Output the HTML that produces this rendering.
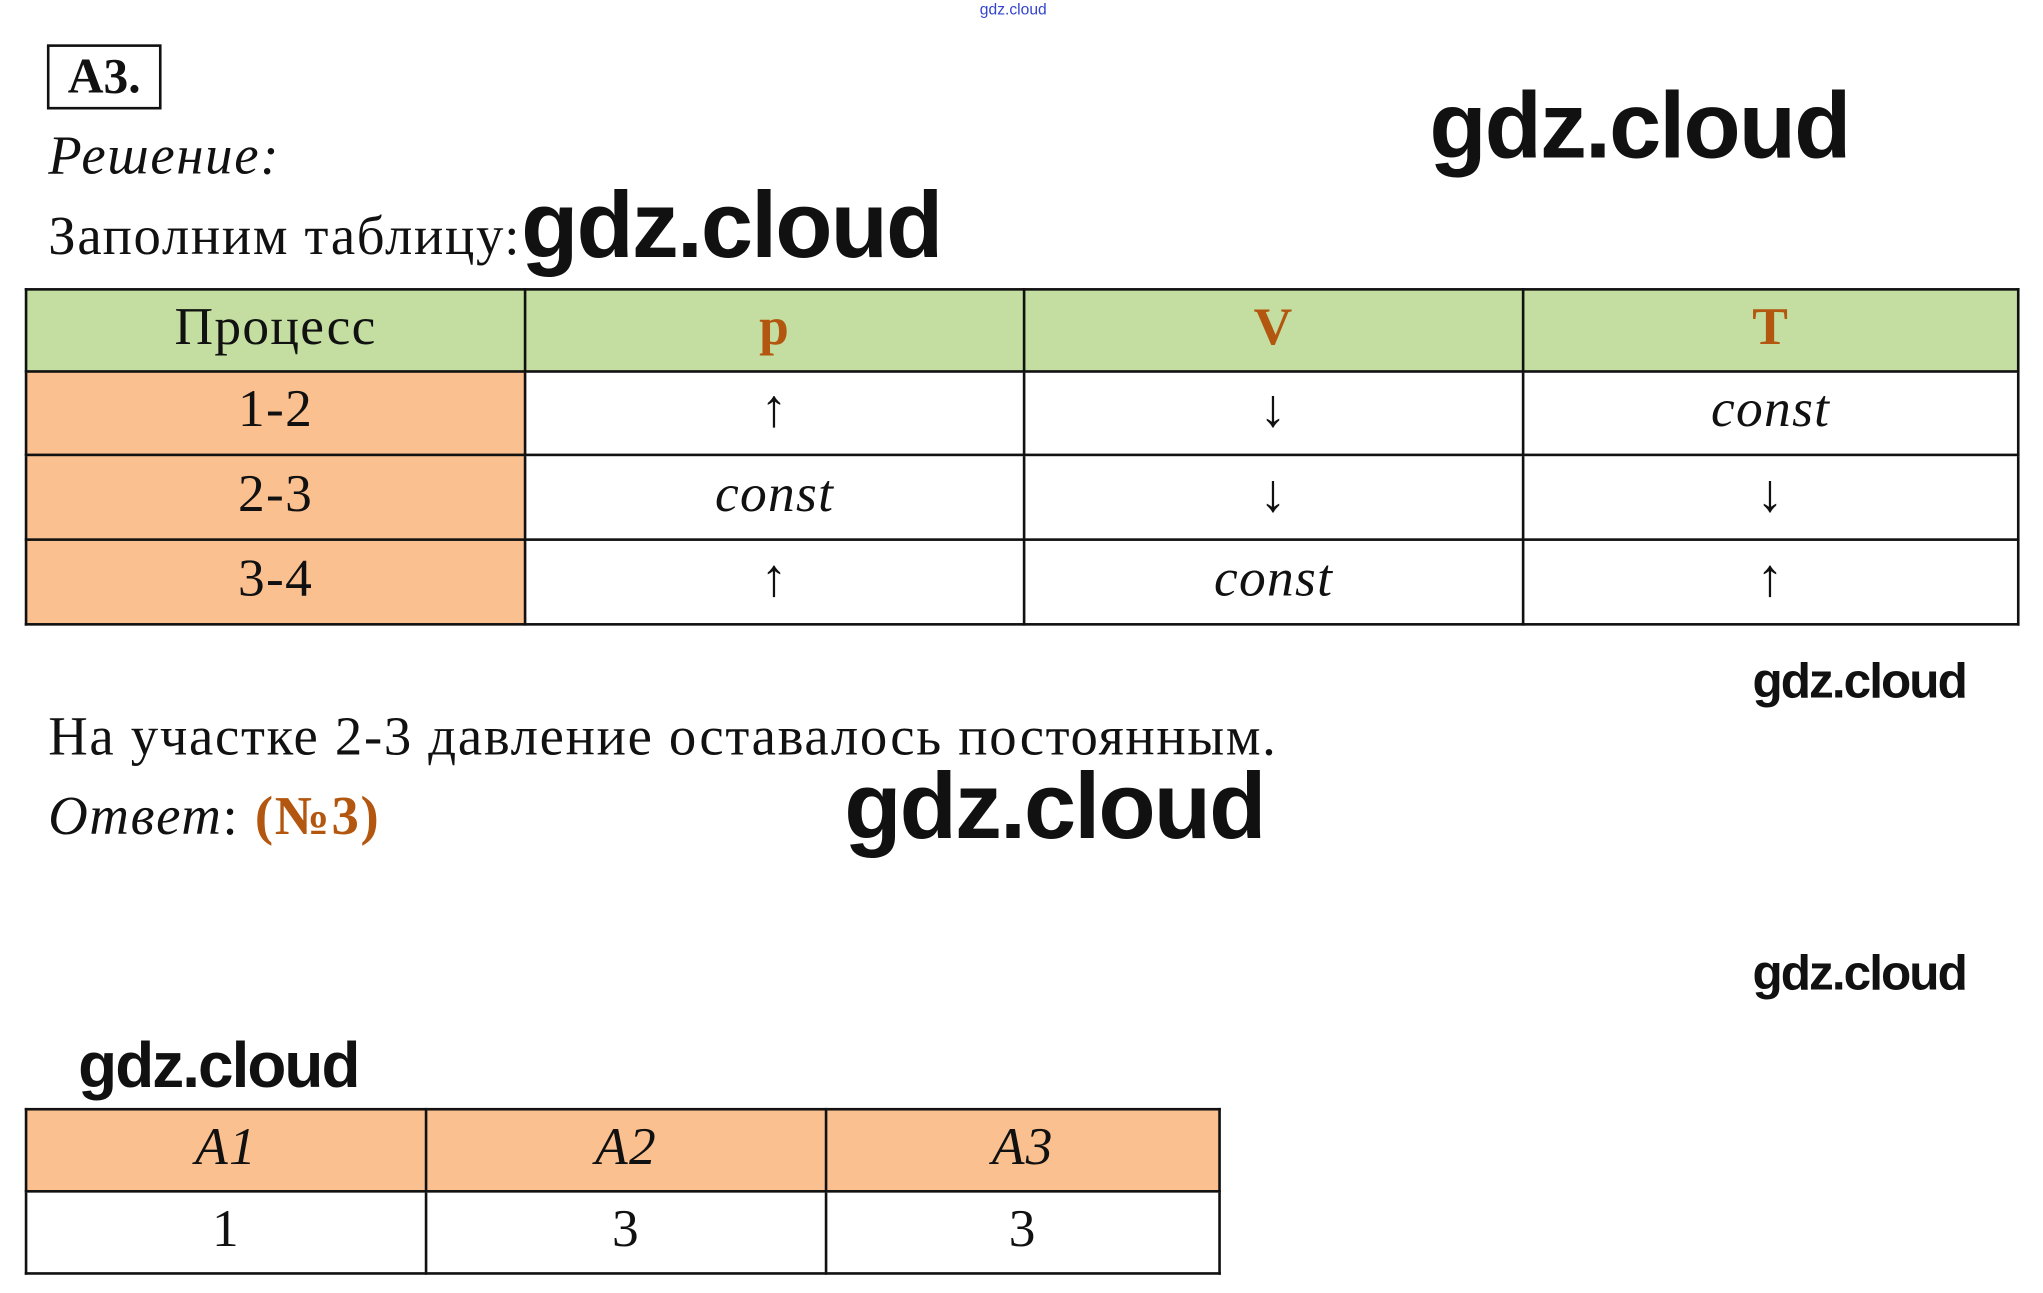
<!DOCTYPE html>
<html><head><meta charset="utf-8"><style>
html,body{margin:0;padding:0;background:#fff;width:2043px;height:1293px;overflow:hidden}
#w{position:absolute;left:0;top:0;width:1568px;height:992px;transform:scale(1.30293,1.30343);transform-origin:0 0;font-family:"Liberation Serif",serif;color:#111}
.a{position:absolute;white-space:nowrap}
.t{font-size:42px;letter-spacing:1.3px}
.g{font-family:"Liberation Sans",sans-serif;font-weight:bold;color:#111;letter-spacing:-1.5px}
table{position:absolute;border-collapse:collapse}
td{border:2px solid #111;text-align:center;padding:0 0 8px 0;font-size:41px;letter-spacing:1px}
.gr{background:#c3dea0}.or{background:#fac08f}
.hd{color:#b3560f;font-weight:bold}
i{font-style:italic}
</style></head><body><div id="w">
<div class="a" style="left:752px;top:0px;font-family:'Liberation Sans',sans-serif;font-size:12px;color:#3344cc">gdz.cloud</div>
<div class="a" style="left:36px;top:34px;width:84px;height:46px;border:2.5px solid #111;font-size:38px;font-weight:bold;line-height:46px;text-align:center">A3.</div>
<div class="a t" style="left:37px;top:96px;font-style:italic">Решение:</div>
<div class="a t" style="left:37px;top:158px">Заполним таблицу:</div>
<div class="a g" style="left:400px;top:132px;font-size:72px">gdz.cloud</div>
<div class="a g" style="left:1097px;top:56px;font-size:72px">gdz.cloud</div>
<table style="left:19px;top:221px;width:1531px">
<tr style="height:63px"><td class="gr" style="width:381px">Процесс</td><td class="gr hd" style="width:381px">p</td><td class="gr hd" style="width:381px">V</td><td class="gr hd">T</td></tr>
<tr style="height:64px"><td class="or">1-2</td><td>↑</td><td>↓</td><td><i>const</i></td></tr>
<tr style="height:65px"><td class="or">2-3</td><td><i>const</i></td><td>↓</td><td>↓</td></tr>
<tr style="height:65px"><td class="or">3-4</td><td>↑</td><td><i>const</i></td><td>↑</td></tr>
</table>
<div class="a g" style="left:1345px;top:502px;font-size:38px">gdz.cloud</div>
<div class="a t" style="left:37px;top:542px">На участке 2-3 давление оставалось постоянным.</div>
<div class="a t" style="left:37px;top:603px"><i>Ответ</i>: <span class="hd">(№3)</span></div>
<div class="a g" style="left:648px;top:578px;font-size:72px">gdz.cloud</div>
<div class="a g" style="left:1345px;top:726px;font-size:38px">gdz.cloud</div>
<div class="a g" style="left:60px;top:790px;font-size:49px">gdz.cloud</div>
<table style="left:19px;top:850px;width:918px">
<tr style="height:63px"><td class="or" style="width:305px"><i>A1</i></td><td class="or" style="width:305px"><i>A2</i></td><td class="or"><i>A3</i></td></tr>
<tr style="height:63px"><td>1</td><td>3</td><td>3</td></tr>
</table>
</div></body></html>
